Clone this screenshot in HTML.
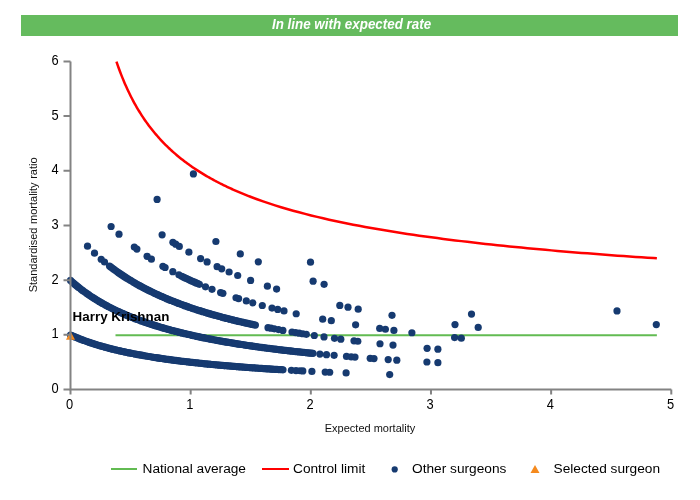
<!DOCTYPE html>
<html><head><meta charset="utf-8"><style>
html,body{margin:0;padding:0;background:#fff;width:700px;height:500px;overflow:hidden}
body{position:relative;font-family:"Liberation Sans",sans-serif}
.wrap{position:absolute;left:0;top:0;width:700px;height:500px;will-change:transform}
.hdr{position:absolute;left:21px;top:15px;width:657px;height:21px;background:#65bb5e;color:#fff;font-weight:bold;font-style:italic;font-size:14.4px;line-height:18px;text-align:center}
svg{position:absolute;left:0;top:0}
.lg{position:absolute;top:461px;font-size:13.7px;color:#000;white-space:nowrap;line-height:16px}
</style></head><body><div class="wrap">
<div class="hdr"><span style="display:inline-block;transform:scale(0.93,1);position:relative;left:2px">In line with expected rate</span></div>
<svg width="700" height="500" viewBox="0 0 700 500">
<path d="M115.50,335.2 L656.88,335.2" stroke="#62bb52" stroke-width="2" fill="none"/>
<g fill="#163a70">
<circle cx="70.50" cy="334.98" r="3.6"/>
<circle cx="72.01" cy="335.66" r="3.6"/>
<circle cx="73.51" cy="336.32" r="3.6"/>
<circle cx="75.02" cy="336.96" r="3.6"/>
<circle cx="76.53" cy="337.59" r="3.6"/>
<circle cx="78.04" cy="338.20" r="3.6"/>
<circle cx="79.54" cy="338.80" r="3.6"/>
<circle cx="81.05" cy="339.38" r="3.6"/>
<circle cx="82.56" cy="339.96" r="3.6"/>
<circle cx="84.06" cy="340.51" r="3.6"/>
<circle cx="85.57" cy="341.06" r="3.6"/>
<circle cx="87.08" cy="341.59" r="3.6"/>
<circle cx="88.59" cy="342.12" r="3.6"/>
<circle cx="90.09" cy="342.63" r="3.6"/>
<circle cx="91.60" cy="343.13" r="3.6"/>
<circle cx="93.11" cy="343.62" r="3.6"/>
<circle cx="94.61" cy="344.10" r="3.6"/>
<circle cx="96.12" cy="344.57" r="3.6"/>
<circle cx="97.63" cy="345.02" r="3.6"/>
<circle cx="99.13" cy="345.48" r="3.6"/>
<circle cx="100.64" cy="345.92" r="3.6"/>
<circle cx="102.15" cy="346.35" r="3.6"/>
<circle cx="103.66" cy="346.77" r="3.6"/>
<circle cx="105.16" cy="347.19" r="3.6"/>
<circle cx="106.67" cy="347.60" r="3.6"/>
<circle cx="108.18" cy="348.00" r="3.6"/>
<circle cx="109.68" cy="348.39" r="3.6"/>
<circle cx="111.19" cy="348.78" r="3.6"/>
<circle cx="112.70" cy="349.15" r="3.6"/>
<circle cx="114.21" cy="349.52" r="3.6"/>
<circle cx="115.71" cy="349.89" r="3.6"/>
<circle cx="117.22" cy="350.25" r="3.6"/>
<circle cx="118.73" cy="350.60" r="3.6"/>
<circle cx="120.23" cy="350.94" r="3.6"/>
<circle cx="121.74" cy="351.28" r="3.6"/>
<circle cx="123.25" cy="351.61" r="3.6"/>
<circle cx="124.76" cy="351.94" r="3.6"/>
<circle cx="126.26" cy="352.26" r="3.6"/>
<circle cx="127.77" cy="352.58" r="3.6"/>
<circle cx="129.28" cy="352.89" r="3.6"/>
<circle cx="130.78" cy="353.20" r="3.6"/>
<circle cx="132.29" cy="353.50" r="3.6"/>
<circle cx="133.80" cy="353.79" r="3.6"/>
<circle cx="135.30" cy="354.08" r="3.6"/>
<circle cx="136.81" cy="354.37" r="3.6"/>
<circle cx="138.32" cy="354.65" r="3.6"/>
<circle cx="139.83" cy="354.93" r="3.6"/>
<circle cx="141.33" cy="355.20" r="3.6"/>
<circle cx="142.84" cy="355.47" r="3.6"/>
<circle cx="144.35" cy="355.74" r="3.6"/>
<circle cx="145.85" cy="356.00" r="3.6"/>
<circle cx="147.36" cy="356.25" r="3.6"/>
<circle cx="148.87" cy="356.50" r="3.6"/>
<circle cx="150.38" cy="356.75" r="3.6"/>
<circle cx="151.88" cy="357.00" r="3.6"/>
<circle cx="153.39" cy="357.24" r="3.6"/>
<circle cx="154.90" cy="357.48" r="3.6"/>
<circle cx="156.40" cy="357.71" r="3.6"/>
<circle cx="157.91" cy="357.94" r="3.6"/>
<circle cx="159.42" cy="358.17" r="3.6"/>
<circle cx="160.93" cy="358.39" r="3.6"/>
<circle cx="162.43" cy="358.61" r="3.6"/>
<circle cx="163.94" cy="358.83" r="3.6"/>
<circle cx="165.45" cy="359.05" r="3.6"/>
<circle cx="166.95" cy="359.26" r="3.6"/>
<circle cx="168.46" cy="359.47" r="3.6"/>
<circle cx="169.97" cy="359.67" r="3.6"/>
<circle cx="171.48" cy="359.88" r="3.6"/>
<circle cx="172.98" cy="360.08" r="3.6"/>
<circle cx="174.49" cy="360.28" r="3.6"/>
<circle cx="176.00" cy="360.47" r="3.6"/>
<circle cx="177.50" cy="360.66" r="3.6"/>
<circle cx="179.01" cy="360.85" r="3.6"/>
<circle cx="180.52" cy="361.04" r="3.6"/>
<circle cx="182.02" cy="361.23" r="3.6"/>
<circle cx="183.53" cy="361.41" r="3.6"/>
<circle cx="185.04" cy="361.59" r="3.6"/>
<circle cx="186.55" cy="361.77" r="3.6"/>
<circle cx="188.05" cy="361.94" r="3.6"/>
<circle cx="189.56" cy="362.12" r="3.6"/>
<circle cx="191.07" cy="362.29" r="3.6"/>
<circle cx="192.57" cy="362.46" r="3.6"/>
<circle cx="194.08" cy="362.62" r="3.6"/>
<circle cx="195.59" cy="362.79" r="3.6"/>
<circle cx="197.10" cy="362.95" r="3.6"/>
<circle cx="198.60" cy="363.11" r="3.6"/>
<circle cx="200.11" cy="363.27" r="3.6"/>
<circle cx="201.62" cy="363.43" r="3.6"/>
<circle cx="203.12" cy="363.59" r="3.6"/>
<circle cx="204.63" cy="363.74" r="3.6"/>
<circle cx="206.14" cy="363.89" r="3.6"/>
<circle cx="207.65" cy="364.04" r="3.6"/>
<circle cx="209.15" cy="364.19" r="3.6"/>
<circle cx="210.66" cy="364.34" r="3.6"/>
<circle cx="212.17" cy="364.48" r="3.6"/>
<circle cx="213.67" cy="364.62" r="3.6"/>
<circle cx="215.18" cy="364.77" r="3.6"/>
<circle cx="216.69" cy="364.91" r="3.6"/>
<circle cx="218.20" cy="365.04" r="3.6"/>
<circle cx="219.70" cy="365.18" r="3.6"/>
<circle cx="221.21" cy="365.32" r="3.6"/>
<circle cx="222.72" cy="365.45" r="3.6"/>
<circle cx="224.22" cy="365.58" r="3.6"/>
<circle cx="225.73" cy="365.71" r="3.6"/>
<circle cx="227.24" cy="365.84" r="3.6"/>
<circle cx="228.74" cy="365.97" r="3.6"/>
<circle cx="230.25" cy="366.10" r="3.6"/>
<circle cx="231.76" cy="366.22" r="3.6"/>
<circle cx="233.27" cy="366.35" r="3.6"/>
<circle cx="234.77" cy="366.47" r="3.6"/>
<circle cx="236.28" cy="366.59" r="3.6"/>
<circle cx="237.79" cy="366.71" r="3.6"/>
<circle cx="239.29" cy="366.83" r="3.6"/>
<circle cx="240.80" cy="366.95" r="3.6"/>
<circle cx="242.31" cy="367.06" r="3.6"/>
<circle cx="243.82" cy="367.18" r="3.6"/>
<circle cx="245.32" cy="367.29" r="3.6"/>
<circle cx="246.83" cy="367.41" r="3.6"/>
<circle cx="248.34" cy="367.52" r="3.6"/>
<circle cx="249.84" cy="367.63" r="3.6"/>
<circle cx="251.35" cy="367.74" r="3.6"/>
<circle cx="252.86" cy="367.85" r="3.6"/>
<circle cx="254.37" cy="367.95" r="3.6"/>
<circle cx="255.87" cy="368.06" r="3.6"/>
<circle cx="257.38" cy="368.17" r="3.6"/>
<circle cx="258.89" cy="368.27" r="3.6"/>
<circle cx="260.39" cy="368.37" r="3.6"/>
<circle cx="261.90" cy="368.47" r="3.6"/>
<circle cx="263.41" cy="368.58" r="3.6"/>
<circle cx="264.91" cy="368.68" r="3.6"/>
<circle cx="266.42" cy="368.78" r="3.6"/>
<circle cx="267.93" cy="368.87" r="3.6"/>
<circle cx="269.44" cy="368.97" r="3.6"/>
<circle cx="270.94" cy="369.07" r="3.6"/>
<circle cx="272.45" cy="369.16" r="3.6"/>
<circle cx="273.96" cy="369.26" r="3.6"/>
<circle cx="275.46" cy="369.35" r="3.6"/>
<circle cx="276.97" cy="369.44" r="3.6"/>
<circle cx="278.48" cy="369.54" r="3.6"/>
<circle cx="279.99" cy="369.63" r="3.6"/>
<circle cx="281.49" cy="369.72" r="3.6"/>
<circle cx="283.00" cy="369.81" r="3.6"/>
<circle cx="70.50" cy="280.47" r="3.6"/>
<circle cx="72.01" cy="281.82" r="3.6"/>
<circle cx="73.51" cy="283.13" r="3.6"/>
<circle cx="75.02" cy="284.42" r="3.6"/>
<circle cx="76.52" cy="285.67" r="3.6"/>
<circle cx="78.03" cy="286.90" r="3.6"/>
<circle cx="79.54" cy="288.09" r="3.6"/>
<circle cx="81.04" cy="289.26" r="3.6"/>
<circle cx="82.55" cy="290.41" r="3.6"/>
<circle cx="84.06" cy="291.52" r="3.6"/>
<circle cx="85.56" cy="292.61" r="3.6"/>
<circle cx="87.07" cy="293.68" r="3.6"/>
<circle cx="88.57" cy="294.72" r="3.6"/>
<circle cx="90.08" cy="295.75" r="3.6"/>
<circle cx="91.59" cy="296.75" r="3.6"/>
<circle cx="93.09" cy="297.72" r="3.6"/>
<circle cx="94.60" cy="298.68" r="3.6"/>
<circle cx="96.11" cy="299.62" r="3.6"/>
<circle cx="97.61" cy="300.54" r="3.6"/>
<circle cx="99.12" cy="301.44" r="3.6"/>
<circle cx="100.62" cy="302.32" r="3.6"/>
<circle cx="102.13" cy="303.19" r="3.6"/>
<circle cx="103.64" cy="304.04" r="3.6"/>
<circle cx="105.14" cy="304.87" r="3.6"/>
<circle cx="106.65" cy="305.68" r="3.6"/>
<circle cx="108.16" cy="306.48" r="3.6"/>
<circle cx="109.66" cy="307.27" r="3.6"/>
<circle cx="111.17" cy="308.04" r="3.6"/>
<circle cx="112.67" cy="308.79" r="3.6"/>
<circle cx="114.18" cy="309.54" r="3.6"/>
<circle cx="115.69" cy="310.26" r="3.6"/>
<circle cx="117.19" cy="310.98" r="3.6"/>
<circle cx="118.70" cy="311.68" r="3.6"/>
<circle cx="120.20" cy="312.37" r="3.6"/>
<circle cx="121.71" cy="313.05" r="3.6"/>
<circle cx="123.22" cy="313.72" r="3.6"/>
<circle cx="124.72" cy="314.37" r="3.6"/>
<circle cx="126.23" cy="315.01" r="3.6"/>
<circle cx="127.74" cy="315.65" r="3.6"/>
<circle cx="129.24" cy="316.27" r="3.6"/>
<circle cx="130.75" cy="316.88" r="3.6"/>
<circle cx="132.25" cy="317.48" r="3.6"/>
<circle cx="133.76" cy="318.07" r="3.6"/>
<circle cx="135.27" cy="318.65" r="3.6"/>
<circle cx="136.77" cy="319.23" r="3.6"/>
<circle cx="138.28" cy="319.79" r="3.6"/>
<circle cx="139.79" cy="320.34" r="3.6"/>
<circle cx="141.29" cy="320.89" r="3.6"/>
<circle cx="142.80" cy="321.43" r="3.6"/>
<circle cx="144.30" cy="321.96" r="3.6"/>
<circle cx="145.81" cy="322.48" r="3.6"/>
<circle cx="147.32" cy="322.99" r="3.6"/>
<circle cx="148.82" cy="323.49" r="3.6"/>
<circle cx="150.33" cy="323.99" r="3.6"/>
<circle cx="151.84" cy="324.48" r="3.6"/>
<circle cx="153.34" cy="324.96" r="3.6"/>
<circle cx="154.85" cy="325.44" r="3.6"/>
<circle cx="156.35" cy="325.91" r="3.6"/>
<circle cx="157.86" cy="326.37" r="3.6"/>
<circle cx="159.37" cy="326.82" r="3.6"/>
<circle cx="160.87" cy="327.27" r="3.6"/>
<circle cx="162.38" cy="327.71" r="3.6"/>
<circle cx="163.89" cy="328.15" r="3.6"/>
<circle cx="165.39" cy="328.58" r="3.6"/>
<circle cx="166.90" cy="329.00" r="3.6"/>
<circle cx="168.40" cy="329.42" r="3.6"/>
<circle cx="169.91" cy="329.83" r="3.6"/>
<circle cx="171.42" cy="330.24" r="3.6"/>
<circle cx="172.92" cy="330.64" r="3.6"/>
<circle cx="174.43" cy="331.04" r="3.6"/>
<circle cx="175.93" cy="331.43" r="3.6"/>
<circle cx="177.44" cy="331.81" r="3.6"/>
<circle cx="178.95" cy="332.19" r="3.6"/>
<circle cx="180.45" cy="332.57" r="3.6"/>
<circle cx="181.96" cy="332.94" r="3.6"/>
<circle cx="183.47" cy="333.30" r="3.6"/>
<circle cx="184.97" cy="333.66" r="3.6"/>
<circle cx="186.48" cy="334.02" r="3.6"/>
<circle cx="187.98" cy="334.37" r="3.6"/>
<circle cx="189.49" cy="334.72" r="3.6"/>
<circle cx="191.00" cy="335.06" r="3.6"/>
<circle cx="192.50" cy="335.40" r="3.6"/>
<circle cx="194.01" cy="335.73" r="3.6"/>
<circle cx="195.52" cy="336.06" r="3.6"/>
<circle cx="197.02" cy="336.39" r="3.6"/>
<circle cx="198.53" cy="336.71" r="3.6"/>
<circle cx="200.03" cy="337.03" r="3.6"/>
<circle cx="201.54" cy="337.35" r="3.6"/>
<circle cx="203.05" cy="337.66" r="3.6"/>
<circle cx="204.55" cy="337.96" r="3.6"/>
<circle cx="206.06" cy="338.27" r="3.6"/>
<circle cx="207.57" cy="338.57" r="3.6"/>
<circle cx="209.07" cy="338.86" r="3.6"/>
<circle cx="210.58" cy="339.16" r="3.6"/>
<circle cx="212.08" cy="339.45" r="3.6"/>
<circle cx="213.59" cy="339.73" r="3.6"/>
<circle cx="215.10" cy="340.02" r="3.6"/>
<circle cx="216.60" cy="340.30" r="3.6"/>
<circle cx="218.11" cy="340.57" r="3.6"/>
<circle cx="219.61" cy="340.85" r="3.6"/>
<circle cx="221.12" cy="341.12" r="3.6"/>
<circle cx="222.63" cy="341.38" r="3.6"/>
<circle cx="224.13" cy="341.65" r="3.6"/>
<circle cx="225.64" cy="341.91" r="3.6"/>
<circle cx="227.15" cy="342.17" r="3.6"/>
<circle cx="228.65" cy="342.43" r="3.6"/>
<circle cx="230.16" cy="342.68" r="3.6"/>
<circle cx="231.66" cy="342.93" r="3.6"/>
<circle cx="233.17" cy="343.18" r="3.6"/>
<circle cx="234.68" cy="343.42" r="3.6"/>
<circle cx="236.18" cy="343.67" r="3.6"/>
<circle cx="237.69" cy="343.91" r="3.6"/>
<circle cx="239.20" cy="344.14" r="3.6"/>
<circle cx="240.70" cy="344.38" r="3.6"/>
<circle cx="242.21" cy="344.61" r="3.6"/>
<circle cx="243.71" cy="344.84" r="3.6"/>
<circle cx="245.22" cy="345.07" r="3.6"/>
<circle cx="246.73" cy="345.30" r="3.6"/>
<circle cx="248.23" cy="345.52" r="3.6"/>
<circle cx="249.74" cy="345.74" r="3.6"/>
<circle cx="251.25" cy="345.96" r="3.6"/>
<circle cx="252.75" cy="346.18" r="3.6"/>
<circle cx="254.26" cy="346.39" r="3.6"/>
<circle cx="255.76" cy="346.60" r="3.6"/>
<circle cx="257.27" cy="346.82" r="3.6"/>
<circle cx="258.78" cy="347.02" r="3.6"/>
<circle cx="260.28" cy="347.23" r="3.6"/>
<circle cx="261.79" cy="347.43" r="3.6"/>
<circle cx="263.30" cy="347.64" r="3.6"/>
<circle cx="264.80" cy="347.84" r="3.6"/>
<circle cx="266.31" cy="348.04" r="3.6"/>
<circle cx="267.81" cy="348.23" r="3.6"/>
<circle cx="269.32" cy="348.43" r="3.6"/>
<circle cx="270.83" cy="348.62" r="3.6"/>
<circle cx="272.33" cy="348.81" r="3.6"/>
<circle cx="273.84" cy="349.00" r="3.6"/>
<circle cx="275.34" cy="349.19" r="3.6"/>
<circle cx="276.85" cy="349.37" r="3.6"/>
<circle cx="278.36" cy="349.56" r="3.6"/>
<circle cx="279.86" cy="349.74" r="3.6"/>
<circle cx="281.37" cy="349.92" r="3.6"/>
<circle cx="282.88" cy="350.10" r="3.6"/>
<circle cx="284.38" cy="350.28" r="3.6"/>
<circle cx="285.89" cy="350.46" r="3.6"/>
<circle cx="287.39" cy="350.63" r="3.6"/>
<circle cx="288.90" cy="350.80" r="3.6"/>
<circle cx="290.41" cy="350.97" r="3.6"/>
<circle cx="291.91" cy="351.14" r="3.6"/>
<circle cx="293.42" cy="351.31" r="3.6"/>
<circle cx="294.93" cy="351.48" r="3.6"/>
<circle cx="296.43" cy="351.65" r="3.6"/>
<circle cx="297.94" cy="351.81" r="3.6"/>
<circle cx="299.44" cy="351.97" r="3.6"/>
<circle cx="300.95" cy="352.13" r="3.6"/>
<circle cx="302.46" cy="352.29" r="3.6"/>
<circle cx="303.96" cy="352.45" r="3.6"/>
<circle cx="305.47" cy="352.61" r="3.6"/>
<circle cx="306.98" cy="352.76" r="3.6"/>
<circle cx="308.48" cy="352.92" r="3.6"/>
<circle cx="309.99" cy="353.07" r="3.6"/>
<circle cx="311.49" cy="353.22" r="3.6"/>
<circle cx="313.00" cy="353.37" r="3.6"/>
<circle cx="109.50" cy="266.03" r="3.6"/>
<circle cx="111.00" cy="267.18" r="3.6"/>
<circle cx="112.51" cy="268.32" r="3.6"/>
<circle cx="114.01" cy="269.43" r="3.6"/>
<circle cx="115.52" cy="270.52" r="3.6"/>
<circle cx="117.02" cy="271.60" r="3.6"/>
<circle cx="118.52" cy="272.65" r="3.6"/>
<circle cx="120.03" cy="273.69" r="3.6"/>
<circle cx="121.53" cy="274.71" r="3.6"/>
<circle cx="123.04" cy="275.71" r="3.6"/>
<circle cx="124.54" cy="276.69" r="3.6"/>
<circle cx="126.05" cy="277.65" r="3.6"/>
<circle cx="127.55" cy="278.60" r="3.6"/>
<circle cx="129.05" cy="279.54" r="3.6"/>
<circle cx="130.56" cy="280.45" r="3.6"/>
<circle cx="132.06" cy="281.36" r="3.6"/>
<circle cx="133.57" cy="282.24" r="3.6"/>
<circle cx="135.07" cy="283.12" r="3.6"/>
<circle cx="136.57" cy="283.98" r="3.6"/>
<circle cx="138.08" cy="284.82" r="3.6"/>
<circle cx="139.58" cy="285.65" r="3.6"/>
<circle cx="141.09" cy="286.47" r="3.6"/>
<circle cx="142.59" cy="287.28" r="3.6"/>
<circle cx="144.09" cy="288.07" r="3.6"/>
<circle cx="145.60" cy="288.85" r="3.6"/>
<circle cx="147.10" cy="289.62" r="3.6"/>
<circle cx="148.61" cy="290.38" r="3.6"/>
<circle cx="150.11" cy="291.13" r="3.6"/>
<circle cx="151.62" cy="291.86" r="3.6"/>
<circle cx="153.12" cy="292.59" r="3.6"/>
<circle cx="154.62" cy="293.30" r="3.6"/>
<circle cx="156.13" cy="294.00" r="3.6"/>
<circle cx="157.63" cy="294.70" r="3.6"/>
<circle cx="159.14" cy="295.38" r="3.6"/>
<circle cx="160.64" cy="296.05" r="3.6"/>
<circle cx="162.14" cy="296.72" r="3.6"/>
<circle cx="163.65" cy="297.37" r="3.6"/>
<circle cx="165.15" cy="298.02" r="3.6"/>
<circle cx="166.66" cy="298.65" r="3.6"/>
<circle cx="168.16" cy="299.28" r="3.6"/>
<circle cx="169.66" cy="299.90" r="3.6"/>
<circle cx="171.17" cy="300.51" r="3.6"/>
<circle cx="172.67" cy="301.11" r="3.6"/>
<circle cx="174.18" cy="301.70" r="3.6"/>
<circle cx="175.68" cy="302.29" r="3.6"/>
<circle cx="177.19" cy="302.87" r="3.6"/>
<circle cx="178.69" cy="303.44" r="3.6"/>
<circle cx="180.19" cy="304.00" r="3.6"/>
<circle cx="181.70" cy="304.56" r="3.6"/>
<circle cx="183.20" cy="305.11" r="3.6"/>
<circle cx="184.71" cy="305.65" r="3.6"/>
<circle cx="186.21" cy="306.18" r="3.6"/>
<circle cx="187.71" cy="306.71" r="3.6"/>
<circle cx="189.22" cy="307.23" r="3.6"/>
<circle cx="190.72" cy="307.75" r="3.6"/>
<circle cx="192.23" cy="308.26" r="3.6"/>
<circle cx="193.73" cy="308.76" r="3.6"/>
<circle cx="195.24" cy="309.25" r="3.6"/>
<circle cx="196.74" cy="309.74" r="3.6"/>
<circle cx="198.24" cy="310.23" r="3.6"/>
<circle cx="199.75" cy="310.71" r="3.6"/>
<circle cx="201.25" cy="311.18" r="3.6"/>
<circle cx="202.76" cy="311.64" r="3.6"/>
<circle cx="204.26" cy="312.11" r="3.6"/>
<circle cx="205.76" cy="312.56" r="3.6"/>
<circle cx="207.27" cy="313.01" r="3.6"/>
<circle cx="208.77" cy="313.46" r="3.6"/>
<circle cx="210.28" cy="313.90" r="3.6"/>
<circle cx="211.78" cy="314.33" r="3.6"/>
<circle cx="213.28" cy="314.76" r="3.6"/>
<circle cx="214.79" cy="315.19" r="3.6"/>
<circle cx="216.29" cy="315.61" r="3.6"/>
<circle cx="217.80" cy="316.02" r="3.6"/>
<circle cx="219.30" cy="316.43" r="3.6"/>
<circle cx="220.81" cy="316.84" r="3.6"/>
<circle cx="222.31" cy="317.24" r="3.6"/>
<circle cx="223.81" cy="317.64" r="3.6"/>
<circle cx="225.32" cy="318.03" r="3.6"/>
<circle cx="226.82" cy="318.42" r="3.6"/>
<circle cx="228.33" cy="318.81" r="3.6"/>
<circle cx="229.83" cy="319.19" r="3.6"/>
<circle cx="231.33" cy="319.56" r="3.6"/>
<circle cx="232.84" cy="319.94" r="3.6"/>
<circle cx="234.34" cy="320.30" r="3.6"/>
<circle cx="235.85" cy="320.67" r="3.6"/>
<circle cx="237.35" cy="321.03" r="3.6"/>
<circle cx="238.85" cy="321.39" r="3.6"/>
<circle cx="240.36" cy="321.74" r="3.6"/>
<circle cx="241.86" cy="322.09" r="3.6"/>
<circle cx="243.37" cy="322.43" r="3.6"/>
<circle cx="244.87" cy="322.78" r="3.6"/>
<circle cx="246.38" cy="323.12" r="3.6"/>
<circle cx="247.88" cy="323.45" r="3.6"/>
<circle cx="249.38" cy="323.78" r="3.6"/>
<circle cx="250.89" cy="324.11" r="3.6"/>
<circle cx="252.39" cy="324.44" r="3.6"/>
<circle cx="253.90" cy="324.76" r="3.6"/>
<circle cx="255.40" cy="325.08" r="3.6"/>
<circle cx="181.70" cy="276.25" r="3.6"/>
<circle cx="183.31" cy="277.03" r="3.6"/>
<circle cx="184.92" cy="277.80" r="3.6"/>
<circle cx="186.53" cy="278.56" r="3.6"/>
<circle cx="188.14" cy="279.31" r="3.6"/>
<circle cx="189.75" cy="280.05" r="3.6"/>
<circle cx="191.35" cy="280.78" r="3.6"/>
<circle cx="192.96" cy="281.50" r="3.6"/>
<circle cx="194.57" cy="282.21" r="3.6"/>
<circle cx="196.18" cy="282.92" r="3.6"/>
<circle cx="197.79" cy="283.61" r="3.6"/>
<circle cx="199.40" cy="284.29" r="3.6"/>
<circle cx="292.00" cy="331.98" r="3.6"/>
<circle cx="295.57" cy="332.58" r="3.6"/>
<circle cx="299.15" cy="333.16" r="3.6"/>
<circle cx="302.73" cy="333.73" r="3.6"/>
<circle cx="306.30" cy="334.29" r="3.6"/>
<circle cx="291.40" cy="370.29" r="3.6"/>
<circle cx="296.00" cy="370.55" r="3.6"/>
<circle cx="300.00" cy="370.77" r="3.6"/>
<circle cx="302.80" cy="370.91" r="3.6"/>
<circle cx="311.90" cy="371.38" r="3.6"/>
<circle cx="325.20" cy="372.03" r="3.6"/>
<circle cx="329.70" cy="372.23" r="3.6"/>
<circle cx="346.10" cy="372.95" r="3.6"/>
<circle cx="389.70" cy="374.59" r="3.6"/>
<circle cx="319.90" cy="354.05" r="3.6"/>
<circle cx="326.50" cy="354.67" r="3.6"/>
<circle cx="334.10" cy="355.36" r="3.6"/>
<circle cx="346.50" cy="356.43" r="3.6"/>
<circle cx="351.20" cy="356.82" r="3.6"/>
<circle cx="355.00" cy="357.12" r="3.6"/>
<circle cx="370.20" cy="358.30" r="3.6"/>
<circle cx="374.00" cy="358.58" r="3.6"/>
<circle cx="388.20" cy="359.58" r="3.6"/>
<circle cx="396.80" cy="360.16" r="3.6"/>
<circle cx="426.90" cy="362.01" r="3.6"/>
<circle cx="437.90" cy="362.63" r="3.6"/>
<circle cx="87.50" cy="246.22" r="3.6"/>
<circle cx="94.50" cy="253.18" r="3.6"/>
<circle cx="101.20" cy="259.23" r="3.6"/>
<circle cx="104.50" cy="262.02" r="3.6"/>
<circle cx="268.00" cy="327.64" r="3.6"/>
<circle cx="271.00" cy="328.21" r="3.6"/>
<circle cx="274.30" cy="328.84" r="3.6"/>
<circle cx="278.50" cy="329.61" r="3.6"/>
<circle cx="282.90" cy="330.41" r="3.6"/>
<circle cx="314.30" cy="335.51" r="3.6"/>
<circle cx="324.00" cy="336.91" r="3.6"/>
<circle cx="334.50" cy="338.34" r="3.6"/>
<circle cx="340.80" cy="339.17" r="3.6"/>
<circle cx="354.00" cy="340.82" r="3.6"/>
<circle cx="357.80" cy="341.27" r="3.6"/>
<circle cx="380.00" cy="343.76" r="3.6"/>
<circle cx="393.00" cy="345.10" r="3.6"/>
<circle cx="427.10" cy="348.28" r="3.6"/>
<circle cx="437.90" cy="349.19" r="3.6"/>
<circle cx="111.10" cy="226.51" r="3.6"/>
<circle cx="119.00" cy="234.14" r="3.6"/>
<circle cx="134.30" cy="247.06" r="3.6"/>
<circle cx="136.90" cy="249.05" r="3.6"/>
<circle cx="147.10" cy="256.33" r="3.6"/>
<circle cx="151.40" cy="259.18" r="3.6"/>
<circle cx="162.90" cy="266.23" r="3.6"/>
<circle cx="165.10" cy="267.49" r="3.6"/>
<circle cx="172.80" cy="271.71" r="3.6"/>
<circle cx="178.90" cy="274.86" r="3.6"/>
<circle cx="205.50" cy="286.81" r="3.6"/>
<circle cx="212.00" cy="289.36" r="3.6"/>
<circle cx="220.60" cy="292.55" r="3.6"/>
<circle cx="222.90" cy="293.37" r="3.6"/>
<circle cx="236.00" cy="297.77" r="3.6"/>
<circle cx="238.60" cy="298.60" r="3.6"/>
<circle cx="246.30" cy="300.97" r="3.6"/>
<circle cx="252.80" cy="302.87" r="3.6"/>
<circle cx="262.30" cy="305.51" r="3.6"/>
<circle cx="272.00" cy="308.04" r="3.6"/>
<circle cx="277.70" cy="309.46" r="3.6"/>
<circle cx="284.00" cy="310.97" r="3.6"/>
<circle cx="296.20" cy="313.74" r="3.6"/>
<circle cx="322.70" cy="319.13" r="3.6"/>
<circle cx="331.30" cy="320.72" r="3.6"/>
<circle cx="355.60" cy="324.84" r="3.6"/>
<circle cx="379.70" cy="328.47" r="3.6"/>
<circle cx="385.40" cy="329.27" r="3.6"/>
<circle cx="393.90" cy="330.43" r="3.6"/>
<circle cx="411.90" cy="332.73" r="3.6"/>
<circle cx="454.60" cy="337.54" r="3.6"/>
<circle cx="461.30" cy="338.22" r="3.6"/>
<circle cx="162.10" cy="234.83" r="3.6"/>
<circle cx="172.90" cy="242.33" r="3.6"/>
<circle cx="175.70" cy="244.16" r="3.6"/>
<circle cx="179.30" cy="246.45" r="3.6"/>
<circle cx="188.90" cy="252.20" r="3.6"/>
<circle cx="200.60" cy="258.62" r="3.6"/>
<circle cx="207.10" cy="261.94" r="3.6"/>
<circle cx="217.10" cy="266.72" r="3.6"/>
<circle cx="221.70" cy="268.80" r="3.6"/>
<circle cx="229.10" cy="272.00" r="3.6"/>
<circle cx="237.70" cy="275.52" r="3.6"/>
<circle cx="250.60" cy="280.42" r="3.6"/>
<circle cx="267.40" cy="286.20" r="3.6"/>
<circle cx="276.60" cy="289.11" r="3.6"/>
<circle cx="339.80" cy="305.40" r="3.6"/>
<circle cx="348.00" cy="307.14" r="3.6"/>
<circle cx="358.20" cy="309.20" r="3.6"/>
<circle cx="392.00" cy="315.34" r="3.6"/>
<circle cx="455.00" cy="324.60" r="3.6"/>
<circle cx="478.20" cy="327.45" r="3.6"/>
<circle cx="157.10" cy="199.41" r="3.6"/>
<circle cx="215.90" cy="241.50" r="3.6"/>
<circle cx="240.30" cy="253.95" r="3.6"/>
<circle cx="258.30" cy="261.87" r="3.6"/>
<circle cx="313.10" cy="281.15" r="3.6"/>
<circle cx="324.10" cy="284.34" r="3.6"/>
<circle cx="471.50" cy="314.08" r="3.6"/>
<circle cx="310.50" cy="262.18" r="3.6"/>
<circle cx="656.30" cy="324.55" r="3.6"/>
<circle cx="193.40" cy="173.89" r="3.6"/>
<circle cx="617.00" cy="310.89" r="3.6"/>
</g>
<path d="M116.46,61.63 L117.66,65.13 L118.86,68.50 L120.07,71.75 L121.27,74.88 L122.47,77.90 L123.67,80.82 L124.87,83.64 L126.07,86.37 L127.28,89.02 L128.48,91.58 L129.68,94.06 L130.88,96.47 L132.08,98.80 L133.28,101.07 L134.49,103.28 L135.69,105.42 L136.89,107.51 L138.09,109.54 L139.29,111.51 L140.49,113.44 L141.69,115.32 L142.90,117.15 L144.10,118.93 L145.30,120.67 L146.50,122.37 L147.70,124.03 L148.90,125.65 L150.11,127.24 L151.31,128.79 L152.51,130.30 L153.71,131.78 L154.91,133.23 L156.11,134.65 L157.32,136.04 L158.52,137.40 L159.72,138.74 L160.92,140.04 L162.12,141.33 L163.32,142.58 L164.53,143.81 L165.73,145.02 L166.93,146.21 L168.13,147.37 L169.33,148.52 L170.53,149.64 L171.73,150.74 L172.94,151.82 L174.14,152.89 L175.34,153.93 L176.54,154.96 L177.74,155.97 L178.94,156.97 L180.15,157.94 L181.35,158.90 L182.55,159.85 L183.75,160.78 L184.95,161.70 L186.15,162.60 L187.36,163.49 L188.56,164.36 L189.76,165.22 L190.96,166.07 L192.16,166.91 L193.36,167.73 L194.57,168.54 L195.77,169.34 L196.97,170.13 L198.17,170.90 L199.37,171.67 L200.57,172.42 L201.77,173.17 L202.98,173.90 L204.18,174.63 L205.38,175.34 L206.58,176.05 L207.78,176.75 L208.98,177.43 L210.19,178.11 L211.39,178.78 L212.59,179.44 L213.79,180.10 L214.99,180.74 L216.19,181.38 L217.40,182.01 L218.60,182.63 L219.80,183.24 L221.00,183.85 L222.20,184.45 L223.40,185.04 L224.61,185.62 L225.81,186.20 L227.01,186.77 L228.21,187.34 L229.41,187.90 L230.61,188.45 L231.81,189.00 L233.02,189.54 L234.22,190.07 L235.42,190.60 L236.62,191.12 L237.82,191.64 L239.02,192.15 L240.23,192.65 L241.43,193.16 L242.63,193.65 L243.83,194.14 L245.03,194.63 L246.23,195.11 L247.44,195.58 L248.64,196.05 L249.84,196.52 L251.04,196.98 L257.05,199.22 L263.06,201.35 L269.06,203.38 L275.07,205.33 L281.08,207.19 L287.09,208.97 L293.10,210.68 L299.10,212.32 L305.11,213.90 L311.12,215.42 L317.13,216.88 L323.14,218.30 L329.14,219.66 L335.15,220.97 L341.16,222.24 L347.17,223.47 L353.18,224.66 L359.18,225.81 L365.19,226.93 L371.20,228.01 L377.21,229.06 L383.22,230.09 L389.22,231.08 L395.23,232.04 L401.24,232.98 L407.25,233.89 L413.26,234.78 L419.26,235.65 L425.27,236.49 L431.28,237.31 L437.29,238.11 L443.30,238.90 L449.30,239.66 L455.31,240.40 L461.32,241.13 L467.33,241.85 L473.34,242.54 L479.34,243.22 L485.35,243.89 L491.36,244.54 L497.37,245.18 L503.38,245.80 L509.38,246.41 L515.39,247.01 L521.40,247.60 L527.41,248.17 L533.42,248.74 L539.42,249.29 L545.43,249.83 L551.44,250.37 L557.45,250.89 L563.46,251.40 L569.46,251.91 L575.47,252.40 L581.48,252.89 L587.49,253.36 L593.50,253.83 L599.50,254.29 L605.51,254.75 L611.52,255.19 L617.53,255.63 L623.54,256.06 L629.54,256.49 L635.55,256.90 L641.56,257.32 L647.57,257.72 L653.58,258.12 L656.88,258.33" stroke="#ff0000" stroke-width="2.5" fill="none" stroke-linejoin="round"/>
<path d="M66,339.8 L70.5,331.2 L75,339.8 Z" fill="#f58a1e"/>
<g stroke="#838383" stroke-width="2" fill="none">
<path d="M70.5,61.42 L70.5,389.5 L671.3,389.5"/>
<path d="M63.5,389.50 H70.5 M63.5,334.82 H70.5 M63.5,280.14 H70.5 M63.5,225.46 H70.5 M63.5,170.78 H70.5 M63.5,116.10 H70.5 M63.5,61.42 H70.5"/>
<path d="M70.50,389.5 V394.6 M190.66,389.5 V394.6 M310.82,389.5 V394.6 M430.98,389.5 V394.6 M551.14,389.5 V394.6 M671.30,389.5 V394.6"/>
</g>
<g font-family="Liberation Sans" font-size="14" fill="#000" text-anchor="end"><text transform="translate(58.7,65.02) scale(0.92,1)">6</text><text transform="translate(58.7,119.70) scale(0.92,1)">5</text><text transform="translate(58.7,174.38) scale(0.92,1)">4</text><text transform="translate(58.7,229.06) scale(0.92,1)">3</text><text transform="translate(58.7,283.74) scale(0.92,1)">2</text><text transform="translate(58.7,338.42) scale(0.92,1)">1</text><text transform="translate(58.7,393.10) scale(0.92,1)">0</text></g>
<g font-family="Liberation Sans" font-size="14" fill="#000" text-anchor="middle"><text transform="translate(69.70,408.7) scale(0.92,1)">0</text><text transform="translate(189.86,408.7) scale(0.92,1)">1</text><text transform="translate(310.02,408.7) scale(0.92,1)">2</text><text transform="translate(430.18,408.7) scale(0.92,1)">3</text><text transform="translate(550.34,408.7) scale(0.92,1)">4</text><text transform="translate(670.50,408.7) scale(0.92,1)">5</text></g>
<text x="370" y="432" font-family="Liberation Sans" font-size="11" fill="#111" text-anchor="middle">Expected mortality</text>
<text transform="translate(36.6,224.9) rotate(-90)" word-spacing="0.5" font-family="Liberation Sans" font-size="11" fill="#111" text-anchor="middle">Standardised mortality ratio</text>
<text x="72.6" y="320.8" font-family="Liberation Sans" font-size="13.4" font-weight="bold" fill="#000">Harry Krishnan</text>
<path d="M111,469 H137" stroke="#62bb52" stroke-width="2"/>
<path d="M262,469 H289" stroke="#ff0000" stroke-width="2"/>
<circle cx="394.7" cy="469.4" r="3.1" fill="#163a70"/>
<path d="M530.5,473 L535,465 L539.5,473 Z" fill="#f58a1e"/>
</svg>
<div class="lg" style="left:142.5px">National average</div>
<div class="lg" style="left:293px">Control limit</div>
<div class="lg" style="left:412px">Other surgeons</div>
<div class="lg" style="left:553.5px">Selected surgeon</div>
</div></body></html>
